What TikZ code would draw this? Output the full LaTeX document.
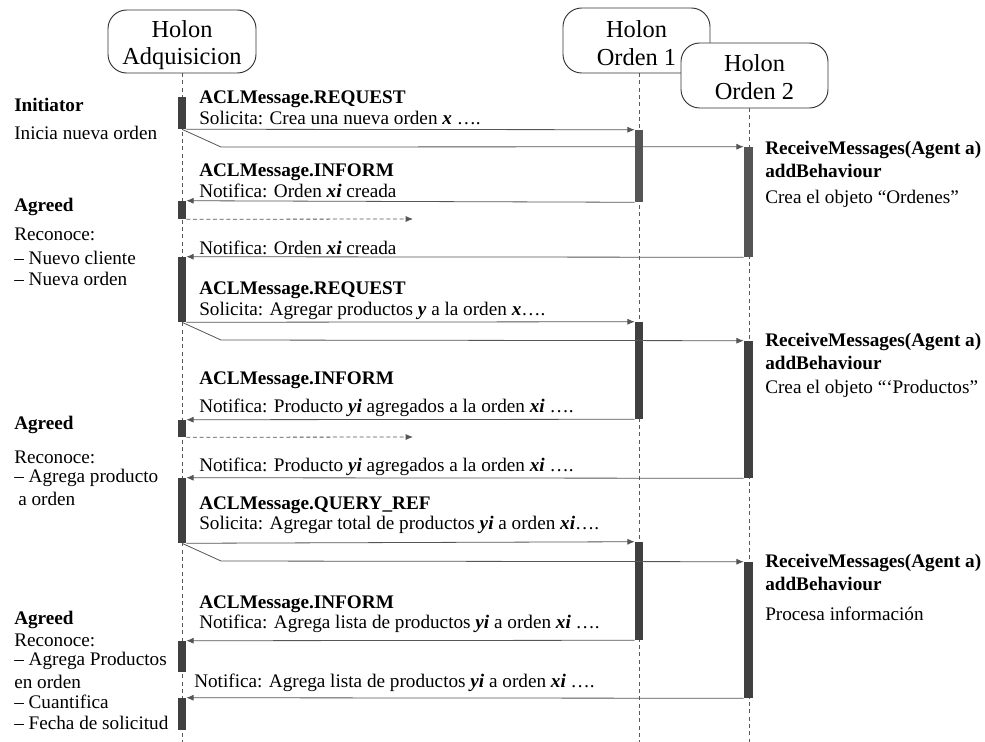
\documentclass[tikz,border=0pt]{standalone}
\usepackage{fontspec}
\setmainfont{Liberation Serif}
\usetikzlibrary{arrows.meta}
\definecolor{barA}{HTML}{555555}
\definecolor{barB}{HTML}{404040}
\definecolor{lnc}{HTML}{555555}
\tikzset{
  hdr/.style={draw=black!80, rounded corners=14pt, fill=white, line width=0.7pt, inner sep=0pt},
  hdrtxt/.style={align=center, font=\fontsize{18.3}{20.5}\selectfont, inner sep=0pt},
  life/.style={dashed, draw=black!65, line width=0.6pt, dash pattern=on 3pt off 2.5pt},
  bar/.style={fill=barB, draw=none},
  bara/.style={fill=barA, draw=none},
  msg/.style={draw=lnc, line width=0.6pt, -{Latex[length=5.5pt,width=4.5pt]}},
  dmsg/.style={draw=lnc, line width=0.6pt, dashed, dash pattern=on 3pt off 2pt, -{Latex[length=5.5pt,width=4.5pt]}},
  lbl/.style={anchor=west, inner sep=0pt, font=\fontsize{14.4}{16}\selectfont},
  blbl/.style={anchor=west, inner sep=0pt, font=\fontsize{14.4}{16}\selectfont\bfseries},
}
\newcommand{\bi}[1]{\textbf{\textit{#1}}}
\begin{document}
\begin{tikzpicture}[x=0.75pt,y=-0.75pt]
\useasboundingbox (0,0) rectangle (985,742);
% lifelines
\coordinate (la0) at (182,73); \coordinate (la1) at (182,742);
\coordinate (lb0) at (639,73); \coordinate (lb1) at (639,742);
\coordinate (lc0) at (749,108); \coordinate (lc1) at (749,742);
\draw[life] (la0) -- (la1);
\draw[life] (lb0) -- (lb1);
\draw[life] (lc0) -- (lc1);
% headers
\node[hdr, minimum width=148pt*0.75, minimum height=63pt*0.75] (ha) at (182,41.5) {};
\node[hdrtxt] (hat) at (182,45) {Holon\\Adquisicion};
\node[hdr, minimum width=147pt*0.75, minimum height=65pt*0.75] (hb) at (636.5,40.5) {};
\node[hdrtxt] (hbt) at (636.5,43) {Holon\\Orden 1};
\node[hdr, minimum width=147pt*0.75, minimum height=65pt*0.75] (hc) at (754.5,75.5) {};
\node[hdrtxt] (hct) at (754.5,77) {Holon\\Orden 2};

% activation bars Adquisicion
\node[bar, minimum width=8pt*0.75, minimum height=32pt*0.75, inner sep=0pt] (a1) at (182,113) {};
\node[bar, minimum width=8pt*0.75, minimum height=18pt*0.75, inner sep=0pt] (a2) at (182,210) {};
\node[bar, minimum width=8pt*0.75, minimum height=65pt*0.75, inner sep=0pt] (a3) at (182,289.5) {};
\node[bar, minimum width=8pt*0.75, minimum height=17pt*0.75, inner sep=0pt] (a4) at (182,428.5) {};
\node[bar, minimum width=8pt*0.75, minimum height=65pt*0.75, inner sep=0pt] (a5) at (182,510.5) {};
\node[bar, minimum width=8pt*0.75, minimum height=31pt*0.75, inner sep=0pt] (a6) at (182,656.5) {};
\node[bar, minimum width=8pt*0.75, minimum height=32pt*0.75, inner sep=0pt] (a7) at (182,714) {};
% Orden 1 bars
\node[bara, minimum width=8pt*0.75, minimum height=72pt*0.75, inner sep=0pt] (b1) at (639,166) {};
\node[bar, minimum width=8pt*0.75, minimum height=97pt*0.75, inner sep=0pt] (b2) at (639,370.5) {};
\node[bar, minimum width=8pt*0.75, minimum height=98pt*0.75, inner sep=0pt] (b3) at (639,591) {};
% Orden 2 bars
\node[bara, minimum width=9pt*0.75, minimum height=110pt*0.75, inner sep=0pt] (c1) at (748.5,202) {};
\node[bar, minimum width=9pt*0.75, minimum height=137pt*0.75, inner sep=0pt] (c2) at (748.5,409.5) {};
\node[bar, minimum width=9pt*0.75, minimum height=136pt*0.75, inner sep=0pt] (c3) at (748.5,630) {};

% bend coordinates
\coordinate (k1) at (221,147);
\coordinate (k2) at (221,340);
\coordinate (k3) at (221,561);
\coordinate (d1) at (413,219);
\coordinate (d2) at (413,437);

% ---- messages
\draw[msg] (a1.south east) -- (b1.north west);
\draw[msg] (a1.south) -- (k1) -- (c1.north west);
\draw[msg] (b1.south west) -- (a2.north east);
\draw[dmsg] (a2.south east) -- (d1);
\draw[msg] (c1.south west) -- (a3.north east);

\draw[msg] (a3.south east) -- (b2.north west);
\draw[msg] (a3.south) -- (k2) -- (c2.north west);
\draw[msg] (b2.south west) -- (a4.north east);
\draw[dmsg] (a4.south east) -- (d2);
\draw[msg] (c2.south west) -- (a5.north east);

\draw[msg] (a5.south east) -- (b3.north west);
\draw[msg] (a5.south) -- (k3) -- (c3.north west);
\draw[msg] (b3.south west) -- (a6.north east);
\draw[msg] (c3.south west) -- (a7.north east);

% ---- message labels
\node[blbl] (m1a) at (199,99) {ACLMessage.REQUEST};
\node[lbl] (m1b) at (199,118) {Solicita: Crea una nueva orden \bi{x} ….};
\node[blbl] (m2a) at (199,172) {ACLMessage.INFORM};
\node[lbl] (m2b) at (199,191) {Notifica: Orden \bi{xi} creada};
\node[lbl] (m3) at (199,248) {Notifica: Orden \bi{xi} creada};
\node[blbl] (m4a) at (199,290) {ACLMessage.REQUEST};
\node[lbl] (m4b) at (199,311) {Solicita: Agregar productos \bi{y} a la orden \bi{x}….};
\node[blbl] (m5a) at (199,380) {ACLMessage.INFORM};
\node[lbl] (m5b) at (199,408) {Notifica: Producto \bi{yi} agregados a la orden \bi{xi} ….};
\node[lbl] (m6) at (199,467) {Notifica: Producto \bi{yi} agregados a la orden \bi{xi} ….};
\node[blbl] (m7a) at (199,505) {ACLMessage.QUERY\_REF};
\node[lbl] (m7b) at (199,525) {Solicita: Agregar total de productos \bi{yi} a orden \bi{xi}….};
\node[blbl] (m8a) at (199,604) {ACLMessage.INFORM};
\node[lbl] (m8b) at (199,624) {Notifica: Agrega lista de productos \bi{yi} a orden \bi{xi} ….};
\node[lbl] (m9) at (194,683) {Notifica: Agrega lista de productos \bi{yi} a orden \bi{xi} ….};

% ---- left texts
\node[blbl] (t1) at (14,105) {Initiator};
\node[lbl] (t2) at (14,133) {Inicia nueva orden};
\node[blbl] (t3) at (14,207) {Agreed};
\node[lbl] (t4) at (14,234) {Reconoce:};
\node[lbl] (t5) at (14,258) {– Nuevo cliente};
\node[lbl] (t6) at (14,279) {– Nueva orden};
\node[blbl] (t7) at (14,425) {Agreed};
\node[lbl] (t8) at (14,457) {Reconoce:};
\node[lbl] (t9) at (14,478) {– Agrega producto};
\node[lbl] (t10) at (18,499) {a orden};
\node[blbl] (t11) at (14,620) {Agreed};
\node[lbl] (t12) at (14,640) {Reconoce:};
\node[lbl] (t13) at (14,661) {– Agrega Productos};
\node[lbl] (t14) at (14,682) {en orden};
\node[lbl] (t15) at (14,702) {– Cuantifica};
\node[lbl] (t16) at (14,723) {– Fecha de solicitud};

% ---- right texts
\node[blbl] (r1) at (765,150) {ReceiveMessages(Agent a)};
\node[blbl] (r2) at (765,171) {addBehaviour};
\node[lbl] (r3) at (765,199) {Crea el objeto “Ordenes”};
\node[blbl] (r4) at (765,342) {ReceiveMessages(Agent a)};
\node[blbl] (r5) at (765,363) {addBehaviour};
\node[lbl] (r6) at (765,389) {Crea el objeto “‘Productos”};
\node[blbl] (r7) at (765,563) {ReceiveMessages(Agent a)};
\node[blbl] (r8) at (765,584) {addBehaviour};
\node[lbl] (r9) at (765,614) {Procesa información};
\end{tikzpicture}
\end{document}
